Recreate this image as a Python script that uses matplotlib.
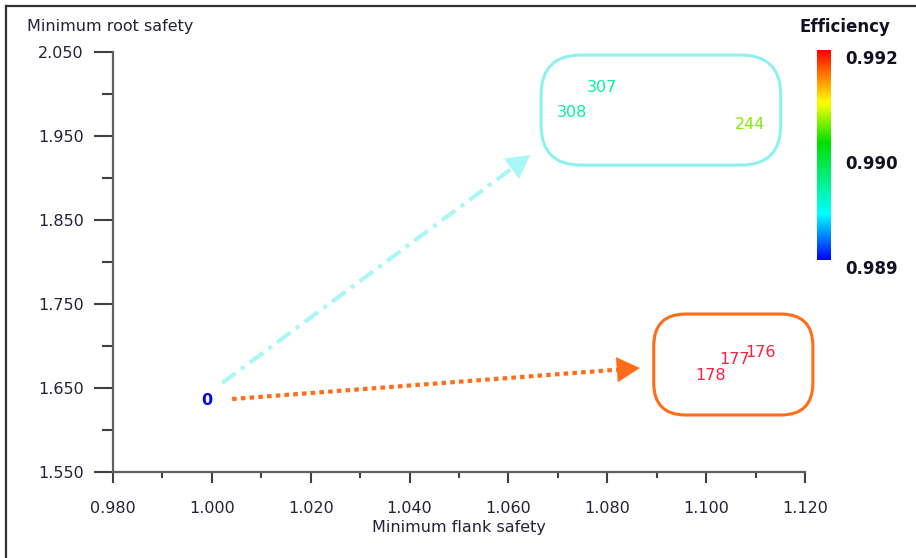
import matplotlib
matplotlib.use('Agg')
import matplotlib.pyplot as plt
import numpy as np
from matplotlib.colors import LinearSegmentedColormap, Normalize
from matplotlib.patches import FancyBboxPatch
from matplotlib.lines import Line2D
import matplotlib.colorbar as mcolorbar

plt.rcParams['font.family'] = ['DejaVu Sans']

# design labels and their values
labels = ['0', '307', '308', '244', '176', '177', '178']
flank_safety = [0.999, 1.0789, 1.0729, 1.1089, 1.1109, 1.1058, 1.1008]
root_safety = [1.635, 2.007, 1.978, 1.963, 1.6925, 1.684, 1.665]
efficiency = [0.9889, 0.98983, 0.98983, 0.99067, 0.99160, 0.99160, 0.99160]

eff_min, eff_max = 0.9889, 0.9916
cbar_ticks = [eff_min, (eff_min + eff_max) / 2, eff_max]

x_ticks = [0.98, 1.00, 1.02, 1.04, 1.06, 1.08, 1.10, 1.12]
y_ticks = [1.55, 1.65, 1.75, 1.85, 1.95, 2.05]

# groups: (box corners, arrow start, arrow end)
groups = {
    'high_root': dict(box=(1.0666, 1.915, 1.1151, 2.046), start=(1.0021, 1.6556), end=(1.0644, 1.927)),
    'high_flank': dict(box=(1.0894, 1.6175, 1.1216, 1.7377), start=(1.0041, 1.6365), end=(1.0866, 1.6735)),
}

cmap = LinearSegmentedColormap.from_list('eff', [
    (0.0, '#0000ff'), (0.22, '#00ffff'), (0.56, '#00e000'),
    (0.75, '#ffff00'), (1.0, '#ff0000')])
norm = Normalize(eff_min, eff_max)

W, H = 916, 558
fig = plt.figure(figsize=(W / 100, H / 100), dpi=100)
ax = fig.add_axes([113 / W, (H - 471.7) / H, (805 - 113) / W, (471.7 - 51.7) / H])

ax.set_xlim(0.98, 1.12)
ax.set_ylim(1.55, 2.05)
for s in ['top', 'right']:
    ax.spines[s].set_visible(False)
for s in ['left', 'bottom']:
    ax.spines[s].set_color('#606060')
    ax.spines[s].set_linewidth(1.6)

tick_col = '#22223a'
fs = 11.5
ax.set_xticks(x_ticks)
ax.set_xticklabels(['%.3f' % v for v in x_ticks])
ax.set_xticks(np.array(x_ticks[:-1]) + 0.01, minor=True)
ax.set_yticks(y_ticks)
ax.set_yticklabels(['%.3f' % v for v in y_ticks])
ax.set_yticks(np.array(y_ticks[:-1]) + 0.05, minor=True)
ax.tick_params(axis='x', which='major', length=8, width=1.5, color='#404040',
               pad=13, labelsize=fs, labelcolor=tick_col)
ax.tick_params(axis='x', which='minor', length=4, width=1.5, color='#404040')
ax.tick_params(axis='y', which='major', length=14, width=1.5, color='#404040',
               pad=7, labelsize=fs, labelcolor=tick_col)
ax.tick_params(axis='y', which='minor', length=8, width=1.5, color='#404040')

ax.set_xlabel('Minimum flank safety', fontsize=fs, color=tick_col, labelpad=3)
fig.text(27 / W, 1 - 27 / H, 'Minimum root safety', fontsize=fs, color=tick_col,
         ha='left', va='center')

# rounded group boxes (radius in pixels converted to data units)
px_x = 0.14 / 692.0
px_y = 0.5 / 420.0
box_styles = {'high_root': ('#8ff0f0', 40), 'high_flank': ('#ff6d1a', 32)}
arrow_styles = {'high_root': ('#aaf7f7', (0, (4, 1.6, 1, 1.6))),
                'high_flank': ('#ff6d1a', (0, (1.1, 1.0)))}
for key, g in groups.items():
    x0, y0, x1, y1 = g['box']
    col, rad = box_styles[key]
    box = FancyBboxPatch((x0, y0), x1 - x0, y1 - y0,
                         boxstyle='round,pad=0,rounding_size=%f' % (rad * px_x),
                         mutation_aspect=px_y / px_x, fill=False, ec=col, lw=2.2,
                         clip_on=False)
    ax.add_patch(box)

    acol, ls = arrow_styles[key]
    (sx, sy), (ex, ey) = g['start'], g['end']
    # shaft stops a bit before the head
    dx, dy = (ex - sx) / px_x, (ey - sy) / px_y
    L = np.hypot(dx, dy)
    f = 1 - 14 / L
    ax.plot([sx, sx + (ex - sx) * f], [sy, sy + (ey - sy) * f], color=acol,
            lw=3, linestyle=ls, solid_capstyle='butt', dash_capstyle='butt')
    hf = 1 - 22 / L
    ax.annotate('', xy=(ex, ey), xytext=(sx + (ex - sx) * hf, sy + (ey - sy) * hf),
                arrowprops=dict(arrowstyle='-|>,head_length=1.1,head_width=0.6',
                                color=acol, lw=0.1, mutation_scale=15,
                                shrinkA=0, shrinkB=0))

for lab, x, y, e in zip(labels, flank_safety, root_safety, efficiency):
    col = '#ff1f3f' if e >= eff_max else cmap(norm(e))
    ax.text(x, y, lab, color=col, ha='center', va='center', fontsize=fs,
            fontweight='bold' if lab == '0' else 'normal', clip_on=False)

# colour bar
cax = fig.add_axes([817 / W, (H - 260) / H, 14 / W, 210 / H])
cb = mcolorbar.ColorbarBase(cax, cmap=cmap, norm=norm, orientation='vertical')
cb.outline.set_visible(False)
cb.set_ticks(cbar_ticks)
cb.set_ticklabels(['%.3f' % v for v in cbar_ticks])
cax.tick_params(length=0, pad=10, labelsize=12)
for t in cax.get_yticklabels():
    t.set_fontweight('bold')
    t.set_color('#111122')
    t.set_va('top')
fig.text(845 / W, 1 - 27 / H, 'Efficiency', fontsize=12, fontweight='bold',
         color='#111122', ha='center', va='center')

# frame lines on the left and top
fig.add_artist(Line2D([6 / W, 6 / W], [0, 1 - 6 / H], color='#333333', lw=1.6))
fig.add_artist(Line2D([6 / W, 1], [1 - 6 / H, 1 - 6 / H], color='#333333', lw=1.6))

fig.savefig('out.png', dpi=100)
